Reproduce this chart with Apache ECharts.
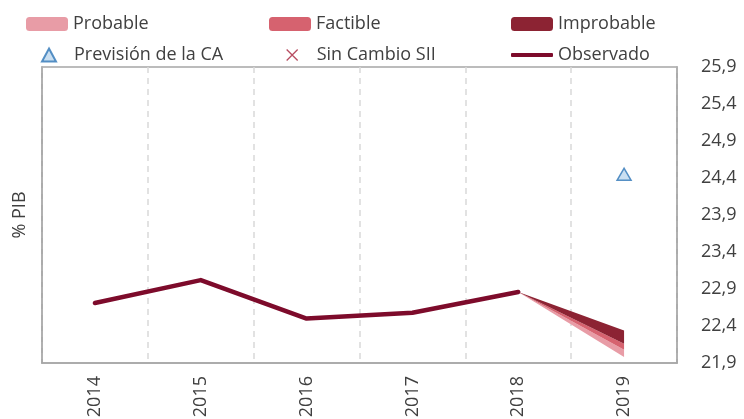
<!DOCTYPE html>
<html>
<head>
<meta charset="utf-8">
<script src="https://cdn.jsdelivr.net/npm/echarts@6/dist/echarts.min.js"></script>
<style>
  html, body { margin: 0; padding: 0; background: #fff; }
  #main { width: 744px; height: 419px; }
</style>
</head>
<body>
<div id="main"></div>
<script>
const years = ['2014', '2015', '2016', '2017', '2018', '2019'];
const observado = [22.71, 23.02, 22.5, 22.58, 22.86, null];
// fan chart: base of the band + thickness of each band
const fanBase = [null, null, null, null, 22.86, 21.98];
const probable = [null, null, null, null, 0, 0.1];
const factible = [null, null, null, null, 0, 0.08];
const improbable = [null, null, null, null, 0, 0.18];
const prevision = [null, null, null, null, null, 24.45];
const sinCambio = [];

const font = '"Open Sans", Lato, sans-serif';
const txt = '#404040';
const frame = { show: true, lineStyle: { color: '#A6A6A6', width: 1.5 } };

const myChart = echarts.init(document.getElementById('main'));

const legendItem = (name, left, top, extra) => Object.assign({
  data: [name],
  left: left,
  top: top,
  padding: 0,
  selectedMode: false,
  textStyle: { color: txt, fontFamily: font, fontSize: 18 }
}, extra);

const option = {
  backgroundColor: '#ffffff',
  animation: false,
  legend: [
    legendItem('Probable', 26, 15, { icon: 'roundRect', itemWidth: 42, itemHeight: 14 }),
    legendItem('Factible', 269, 15, { icon: 'roundRect', itemWidth: 42, itemHeight: 14 }),
    legendItem('Improbable', 511, 15, { icon: 'roundRect', itemWidth: 42, itemHeight: 14 }),
    legendItem('Previsión de la CA', 41, 46, {
      icon: 'triangle', itemWidth: 14, itemHeight: 13,
      textStyle: { color: txt, fontFamily: font, fontSize: 18, padding: [0, 0, 0, 13] }
    }),
    legendItem('Sin Cambio SII', 286, 46, {
      icon: 'path://M0 0L10 10M10 0L0 10', itemWidth: 11, itemHeight: 11,
      itemStyle: { color: 'transparent', borderColor: '#A5203A', borderWidth: 1.3 },
      textStyle: { color: txt, fontFamily: font, fontSize: 18, padding: [0, 0, 0, 14] }
    }),
    legendItem('Observado', 511, 46, { icon: 'roundRect', itemWidth: 42, itemHeight: 4 })
  ],
  grid: {
    left: 42, right: 67, top: 67, bottom: 56,
    outerBoundsMode: 'none',
    show: true, borderColor: '#A6A6A6', borderWidth: 1.5
  },
  xAxis: {
    type: 'category', data: years, boundaryGap: true,
    axisLine: frame,
    axisTick: { show: false },
    axisLabel: { rotate: 90, margin: 13, color: txt, fontFamily: font, fontSize: 18 },
    splitLine: { show: true, interval: 0, lineStyle: { color: '#D9D9D9', width: 1.5, type: [6, 5] } }
  },
  yAxis: [
    {
      type: 'value', position: 'right',
      min: 21.9, max: 25.9, interval: 0.5,
      axisLine: frame,
      axisTick: { show: false },
      splitLine: { show: false },
      axisLabel: {
        margin: 24,
        color: txt, fontFamily: font, fontSize: 18,
        formatter: v => v.toFixed(1).replace('.', ',')
      }
    },
    {
      type: 'value', position: 'left',
      name: '% PIB', nameLocation: 'middle', nameGap: 13,
      nameTextStyle: { color: txt, fontFamily: font, fontSize: 18 },
      axisLine: frame,
      axisTick: { show: false },
      axisLabel: { show: false },
      splitLine: { show: false }
    }
  ],
  series: [
    {
      name: 'fanBase', type: 'line', stack: 'fan', data: fanBase,
      symbol: 'none', lineStyle: { width: 0, opacity: 0 }, silent: true
    },
    {
      name: 'Probable', type: 'line', stack: 'fan', data: probable,
      symbol: 'none', lineStyle: { width: 0 },
      itemStyle: { color: '#E89CA6' },
      areaStyle: { color: '#E89CA6', opacity: 1 }
    },
    {
      name: 'Factible', type: 'line', stack: 'fan', data: factible,
      symbol: 'none', lineStyle: { width: 0 },
      itemStyle: { color: '#D6626F' },
      areaStyle: { color: '#D6626F', opacity: 1 }
    },
    {
      name: 'Improbable', type: 'line', stack: 'fan', data: improbable,
      symbol: 'none', lineStyle: { width: 0 },
      itemStyle: { color: '#8C2333' },
      areaStyle: { color: '#8C2333', opacity: 1 }
    },
    {
      name: 'Observado', type: 'line', data: observado,
      symbol: 'none', z: 5,
      itemStyle: { color: '#7D0B2B' },
      lineStyle: { color: '#7D0B2B', width: 4.5, cap: 'round', join: 'round' }
    },
    {
      name: 'Previsión de la CA', type: 'scatter', data: prevision,
      symbol: 'triangle', symbolSize: [14, 12], z: 6,
      itemStyle: { color: '#BDD7EE', borderColor: '#2E75B6', borderWidth: 1.5 }
    },
    {
      name: 'Sin Cambio SII', type: 'scatter', data: sinCambio,
      symbol: 'path://M0 0L10 10M10 0L0 10', symbolSize: 11,
      itemStyle: { color: 'transparent', borderColor: '#A5203A', borderWidth: 1.3 }
    }
  ]
};

myChart.setOption(option);
</script>
</body>
</html>
